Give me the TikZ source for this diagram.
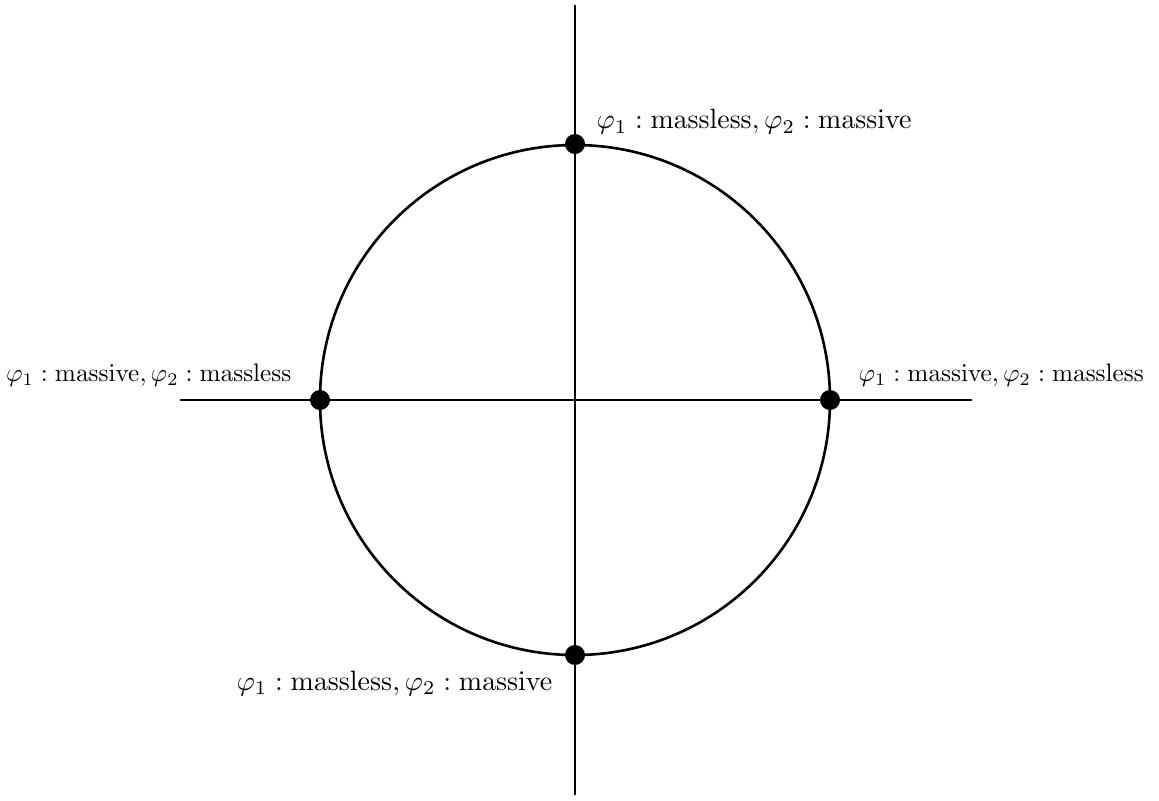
\documentclass[tikz,border=0pt]{standalone}
\begin{document}
\begin{tikzpicture}[x=0.0121cm,y=-0.0121cm,
  axis/.style={line width=0.9pt},
  dot/.style={circle,fill=black,inner sep=0pt,minimum size=0.242cm},
  lbl/.style={inner sep=0pt,font=\normalsize}]
\useasboundingbox (0,0) rectangle (1159,800);
\coordinate (O) at (575,400);
\coordinate (vt) at (575,5);
\coordinate (vb) at (575,795);
\coordinate (hl) at (180,400);
\coordinate (hr) at (972,400);
\draw[axis] (vt) -- (vb);
\draw[axis] (hl) -- (hr);
\draw[axis] (O) circle[radius=255];
\node[dot] (T) at (575,144) {};
\node[dot] (B) at (575,655) {};
\node[dot] (L) at (320,400) {};
\node[dot] (R) at (830,400) {};
\node[lbl,anchor=west,scale=0.96] (tl) at (596,122) {$\varphi_1:\mathrm{massless},\varphi_2:\mathrm{massive}$};
\node[lbl,anchor=east,scale=0.963] (bl) at (553,683) {$\varphi_1:\mathrm{massless},\varphi_2:\mathrm{massive}$};
\node[lbl,anchor=east,scale=0.87] (ll) at (292,375) {$\varphi_1:\mathrm{massive},\varphi_2:\mathrm{massless}$};
\node[lbl,anchor=west,scale=0.87] (rl) at (858,375) {$\varphi_1:\mathrm{massive},\varphi_2:\mathrm{massless}$};
\end{tikzpicture}
\end{document}
